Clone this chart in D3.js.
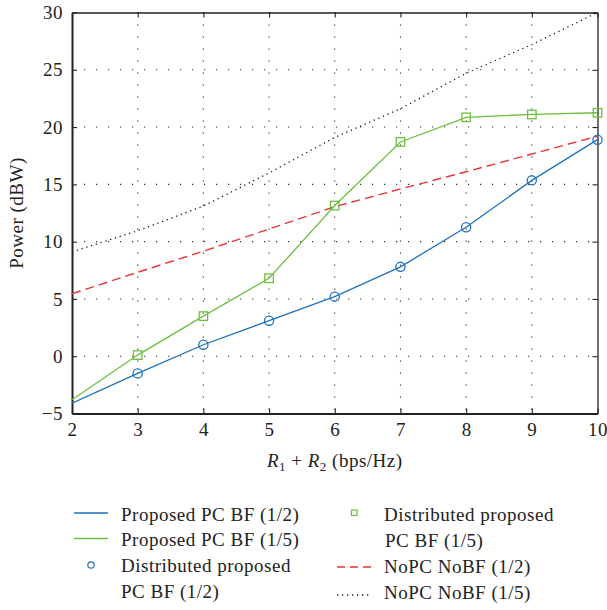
<!DOCTYPE html>
<html>
<head>
<meta charset="utf-8">
<script src="https://cdn.jsdelivr.net/npm/d3@7"></script>
<style>
  html, body { margin: 0; padding: 0; background: #fff; }
  svg { display: block; font-family: "Liberation Serif", "Times New Roman", serif; }
</style>
</head>
<body>
<svg id="chart" width="607" height="610"></svg>
<script>
// Sum rate R1 + R2 (bps/Hz)
const rates = [2, 3, 4, 5, 6, 7, 8, 9, 10];

// Transmit power (dBW) for each scheme
const proposedHalf  = [-4.1, -1.5, 1.0, 3.1, 5.2, 7.8, 11.25, 15.35, 18.9];
const proposedFifth = [-3.8, 0.1, 3.5, 6.8, 13.15, 18.7, 20.85, 21.1, 21.25];
const noPcHalf      = [5.45, 7.33, 9.16, 11.1, 13.05, 14.6, 16.1, 17.65, 19.2];
const noPcFifth     = [9.1, 10.95, 13.1, 16.0, 19.1, 21.6, 24.7, 27.2, 30.0];

// Distributed algorithm results (markers only)
const distRates     = [3, 4, 5, 6, 7, 8, 9, 10];
const distHalf      = [-1.5, 1.0, 3.1, 5.2, 7.8, 11.25, 15.35, 18.9];
const distFifth     = [0.1, 3.5, 6.8, 13.15, 18.7, 20.85, 21.1, 21.25];

const xTicks = [2, 3, 4, 5, 6, 7, 8, 9, 10];
const yTicks = [-5, 0, 5, 10, 15, 20, 25, 30];

const BLUE = "#1f72bd", GREEN = "#6cc040", RED = "#ee3535", BLACK = "#222";
const FONT = "Liberation Serif, Times New Roman, serif";
const fs = 19, ls = 0.5;

const svg = d3.select("#chart");
const W = 607, H = 610;
const m = { left: 72, right: W - 597.5, top: 12.5, bottom: H - 413.5 };
const x = d3.scaleLinear().domain([2, 10]).range([m.left, W - m.right]);
const y = d3.scaleLinear().domain([-5, 30]).range([H - m.bottom, m.top]);

// Grid
const grid = svg.append("g").attr("stroke", "#333").attr("stroke-width", 1.1)
  .attr("stroke-dasharray", "1.2,10.8");
grid.selectAll("line.v").data(xTicks.slice(1, -1)).join("line")
  .attr("x1", d => x(d)).attr("x2", d => x(d))
  .attr("y1", y(30)).attr("y2", y(-5));
grid.selectAll("line.h").data(yTicks.slice(1, -1)).join("line")
  .attr("x1", x(2)).attr("x2", x(10))
  .attr("y1", d => y(d)).attr("y2", d => y(d));

// Axes with inward ticks on all four sides
const tickLen = 5;
const axB = svg.append("g").attr("transform", `translate(0,${y(-5)})`)
  .call(d3.axisBottom(x).tickValues(xTicks).tickSizeInner(-tickLen).tickSizeOuter(0).tickPadding(9));
const axT = svg.append("g").attr("transform", `translate(0,${y(30)})`)
  .call(d3.axisTop(x).tickValues(xTicks).tickSizeInner(-tickLen).tickSizeOuter(0).tickFormat(""));
const axL = svg.append("g").attr("transform", `translate(${x(2)},0)`)
  .call(d3.axisLeft(y).tickValues(yTicks).tickSizeInner(-tickLen).tickSizeOuter(0).tickPadding(9)
    .tickFormat(d => d < 0 ? "\u2212" + Math.abs(d) : d));
const axR = svg.append("g").attr("transform", `translate(${x(10)},0)`)
  .call(d3.axisRight(y).tickValues(yTicks).tickSizeInner(-tickLen).tickSizeOuter(0).tickFormat(""));
[axB, axT, axL, axR].forEach(a => {
  a.attr("font-family", FONT);
  a.select(".domain").attr("stroke", "#222").attr("stroke-width", 1.3);
  a.selectAll(".tick line").attr("stroke", "#222").attr("stroke-width", 1.1);
  a.selectAll("text").attr("font-family", FONT).attr("font-size", fs)
    .attr("letter-spacing", ls).attr("fill", "#222");
});
axB.select(".domain").attr("stroke-width", 2);
axL.select(".domain").attr("stroke-width", 2);

// Axis titles
const xl = svg.append("text").attr("x", x(6)).attr("y", 467).attr("text-anchor", "middle")
  .attr("font-family", FONT).attr("font-size", fs).attr("letter-spacing", ls).attr("fill", "#222");
xl.append("tspan").attr("font-style", "italic").text("R");
xl.append("tspan").attr("font-size", 13).attr("dy", 4).text("1");
xl.append("tspan").attr("dy", -4).text(" + ");
xl.append("tspan").attr("font-style", "italic").text("R");
xl.append("tspan").attr("font-size", 13).attr("dy", 4).text("2");
xl.append("tspan").attr("dy", -4).text(" (bps/Hz)");

svg.append("text").attr("transform", `translate(23,${(y(30) + y(-5)) / 2}) rotate(-90)`)
  .attr("text-anchor", "middle").attr("font-family", FONT).attr("font-size", fs)
  .attr("letter-spacing", ls).attr("fill", "#222").text("Power (dBW)");

// Clip to plot area
svg.append("clipPath").attr("id", "plot").append("rect")
  .attr("x", x(2)).attr("y", y(30) - 1).attr("width", x(10) - x(2)).attr("height", y(-5) - y(30) + 1);
const plot = svg.append("g").attr("clip-path", "url(#plot)");

const line = d3.line().x((d, i) => x(rates[i])).y(d => y(d));
plot.append("path").datum(noPcFifth).attr("d", line).attr("fill", "none")
  .attr("stroke", BLACK).attr("stroke-width", 1.3).attr("stroke-dasharray", "1.3,3.7");
plot.append("path").datum(noPcHalf).attr("d", line).attr("fill", "none")
  .attr("stroke", RED).attr("stroke-width", 1.4).attr("stroke-dasharray", "9,5");
plot.append("path").datum(proposedFifth).attr("d", line).attr("fill", "none")
  .attr("stroke", GREEN).attr("stroke-width", 1.3);
plot.append("path").datum(proposedHalf).attr("d", line).attr("fill", "none")
  .attr("stroke", BLUE).attr("stroke-width", 1.3);

// Markers (drawn unclipped so edge markers show fully)
const sq = 8.5;
svg.append("g").selectAll("rect").data(distFifth).join("rect")
  .attr("x", (d, i) => x(distRates[i]) - sq / 2).attr("y", d => y(d) - sq / 2)
  .attr("width", sq).attr("height", sq).attr("fill", "none")
  .attr("stroke", GREEN).attr("stroke-width", 1.3);
svg.append("g").selectAll("circle").data(distHalf).join("circle")
  .attr("cx", (d, i) => x(distRates[i])).attr("cy", d => y(d)).attr("r", 4.6)
  .attr("fill", "none").attr("stroke", BLUE).attr("stroke-width", 1.3);

// Legend
const leg = svg.append("g").attr("font-family", FONT).attr("font-size", fs)
  .attr("letter-spacing", ls).attr("fill", "#222");
function legText(tx, ty, s) {
  leg.append("text").attr("x", tx).attr("y", ty).attr("dy", "0.33em").text(s);
}
leg.append("line").attr("x1", 74).attr("x2", 108).attr("y1", 513).attr("y2", 513)
  .attr("stroke", BLUE).attr("stroke-width", 1.3);
legText(121, 515, "Proposed PC BF (1/2)");
leg.append("line").attr("x1", 74).attr("x2", 108).attr("y1", 538.5).attr("y2", 538.5)
  .attr("stroke", GREEN).attr("stroke-width", 1.3);
legText(121, 540, "Proposed PC BF (1/5)");
leg.append("circle").attr("cx", 91).attr("cy", 565).attr("r", 3.2)
  .attr("fill", "none").attr("stroke", BLUE).attr("stroke-width", 1.2);
legText(121, 566, "Distributed proposed");
legText(121, 592, "PC BF (1/2)");

leg.append("rect").attr("x", 351.5).attr("y", 510).attr("width", 5.5).attr("height", 5.5)
  .attr("fill", "none").attr("stroke", GREEN).attr("stroke-width", 1.2);
legText(384, 515, "Distributed proposed");
legText(385, 541, "PC BF (1/5)");
leg.append("line").attr("x1", 337).attr("x2", 372).attr("y1", 567).attr("y2", 567)
  .attr("stroke", RED).attr("stroke-width", 1.4).attr("stroke-dasharray", "8,5");
legText(384, 567, "NoPC NoBF (1/2)");
leg.append("line").attr("x1", 337).attr("x2", 372).attr("y1", 595).attr("y2", 595)
  .attr("stroke", BLACK).attr("stroke-width", 1.3).attr("stroke-dasharray", "1.3,3.7");
legText(384, 593, "NoPC NoBF (1/5)");
</script>
</body>
</html>
